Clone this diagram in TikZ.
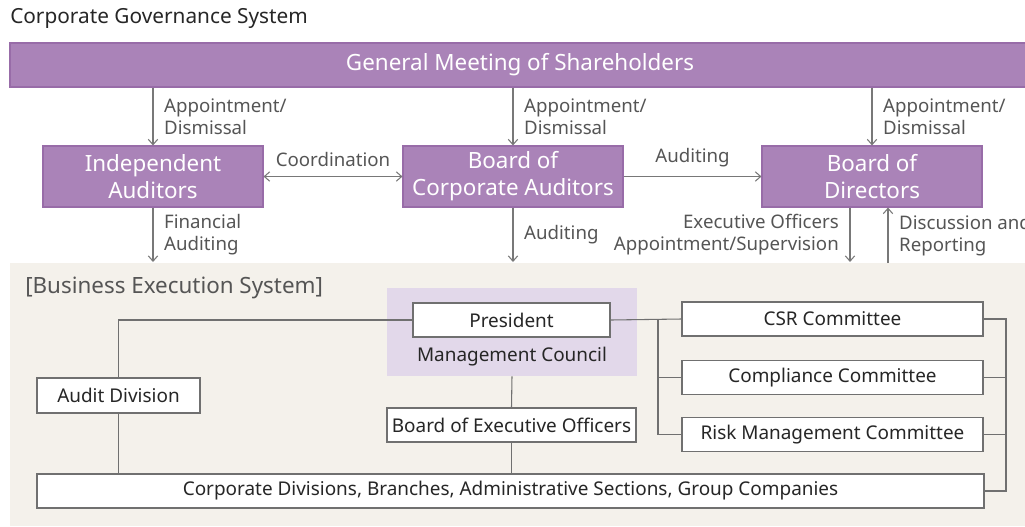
\documentclass[tikz,border=0pt]{standalone}
\usepackage{fontspec}
\setmainfont{Noto Sans}
\usetikzlibrary{arrows.meta, positioning}
\definecolor{gmpurple}{RGB}{170,131,184}
\definecolor{gmedge}{RGB}{152,108,168}
\definecolor{mclilac}{RGB}{226,216,234}
\definecolor{exbeige}{RGB}{244,241,235}
\definecolor{lngray}{RGB}{120,120,120}
\definecolor{txtgray}{RGB}{85,85,85}
\definecolor{boxgray}{RGB}{112,112,112}
\tikzset{
  purplebox/.style={rectangle, draw=gmedge, fill=gmpurple, text=white,
    align=center, font=\fontsize{16.8}{20.25}\selectfont, line width=0.8pt,
    inner sep=0pt},
  orgbox/.style={purplebox, minimum width=165pt, minimum height=45.75pt},
  whitebox/.style={rectangle, draw=boxgray, fill=white, text=black!85,
    font=\fontsize{14.2}{16}\selectfont, minimum height=25.5pt,
    inner sep=0pt, line width=0.9pt},
  lbl/.style={text=txtgray, align=left, font=\fontsize{14}{16.5}\selectfont,
    inner sep=0pt},
  arrow/.style={-{Straight Barb[length=4pt, width=7pt]}, draw=lngray,
    line width=0.8pt},
  biarrow/.style={{Straight Barb[length=4pt, width=7pt]}-{Straight Barb[length=4pt, width=7pt]},
    draw=lngray, line width=0.8pt},
  link/.style={draw=boxgray, line width=0.8pt}
}
\begin{document}
\begin{tikzpicture}[x=0.75pt, y=-0.75pt]
  \useasboundingbox (0,0) rectangle (1025,526);
  \clip (0,0) rectangle (1025,526);
  % title
  \node[anchor=west, inner sep=0pt, text=black!85,
    font=\fontsize{15.6}{18}\selectfont] (title) at (10,18) {Corporate Governance System};
  % governance part
  \node[purplebox, minimum width=765pt, minimum height=33pt] (gm) at (520,65)
    {General Meeting of Shareholders};
  \node[orgbox] (ia) at (153,176.5) {Independent\\Auditors};
  \node[orgbox] (bca) at (513,176.5) {Board of\\Corporate Auditors};
  \node[orgbox] (bod) at (872,176.5) {Board of\\Directors};
  % business execution area
  \fill[exbeige] (10,263) rectangle (1025,526);
  \node[anchor=west, inner sep=0pt, text=txtgray,
    font=\fontsize{16.8}{20}\selectfont] (bes) at (25,288) {[Business Execution System]};
  \node[rectangle, fill=mclilac, minimum width=187.5pt, minimum height=66pt,
    inner sep=0pt] (mc) at (512,332) {};
  \node[text=black!85, inner sep=0pt, font=\fontsize{14.2}{16}\selectfont]
    (mctext) at (512,357) {Management Council};
  \node[whitebox, minimum width=147.75pt] (pres) at (511.5,320) {President};
  \node[whitebox, minimum width=122.25pt, minimum height=26.25pt] (audit)
    at (118.5,395.5) {Audit Division};
  \node[whitebox, minimum width=186.75pt] (beo) at (511.5,425)
    {Board of Executive Officers};
  \node[whitebox, minimum width=710.25pt] (corp) at (510.5,491)
    {Corporate Divisions, Branches, Administrative Sections, Group Companies};
  \node[whitebox, minimum width=225.75pt] (csr) at (832.5,319) {CSR Committee};
  \node[whitebox, minimum width=225.75pt] (comp) at (832.5,377.5) {Compliance Committee};
  \node[whitebox, minimum width=225.75pt] (risk) at (832.5,434.5) {Risk Management Committee};
  % appointments
  \draw[arrow] (gm.south -| ia) -- node[lbl, anchor=west, xshift=8pt]
    {Appointment/\\Dismissal} (ia.north);
  \draw[arrow] (gm.south -| bca) -- node[lbl, anchor=west, xshift=8pt]
    {Appointment/\\Dismissal} (bca.north);
  \draw[arrow] (gm.south -| bod) -- node[lbl, anchor=west, xshift=8pt]
    {Appointment/\\Dismissal} (bod.north);
  \draw[biarrow] (ia) -- node[lbl, above, yshift=7pt] {Coordination} (bca);
  \draw[arrow] (bca) -- node[lbl, above, yshift=7pt] {Auditing} (bod);
  % into execution
  \coordinate (iaend) at (153,262);
  \coordinate (bcaend) at (513,262);
  \coordinate (eoend) at (850,262);
  \coordinate (drstart) at (888,263);
  \draw[arrow] (ia.south) -- node[lbl, anchor=west, xshift=8pt]
    {Financial\\Auditing} (iaend);
  \draw[arrow] (bca.south) -- node[lbl, anchor=west, xshift=8pt] {Auditing} (bcaend);
  \draw[arrow] (bod.south -| eoend) -- node[lbl, anchor=east, align=right, xshift=-8pt]
    {Executive Officers\\Appointment/Supervision} (eoend);
  \draw[arrow] (drstart) -- node[lbl, anchor=west, xshift=8pt]
    {Discussion and\\Reporting} (bod.south -| drstart);
  % execution links
  \draw[link] (pres.west) -| (audit.north);
  \draw[link] (audit.south) -- (audit.south |- corp.north);
  \draw[link] (mc.south) -- (beo.north);
  \draw[link] (beo.south) -- (beo.south |- corp.north);
  \draw[link] (pres.east) -- (csr.west);
  \coordinate (lbus) at (658,319);
  \coordinate (rbus) at (1006,319);
  \draw[link] (lbus) |- (risk.west);
  \draw[link] (lbus |- comp.west) -- (comp.west);
  \draw[link] (csr.east) -- (rbus) |- (corp.east);
  \draw[link] (comp.east) -- (comp.east -| rbus);
  \draw[link] (risk.east) -- (risk.east -| rbus);
\end{tikzpicture}
\end{document}
